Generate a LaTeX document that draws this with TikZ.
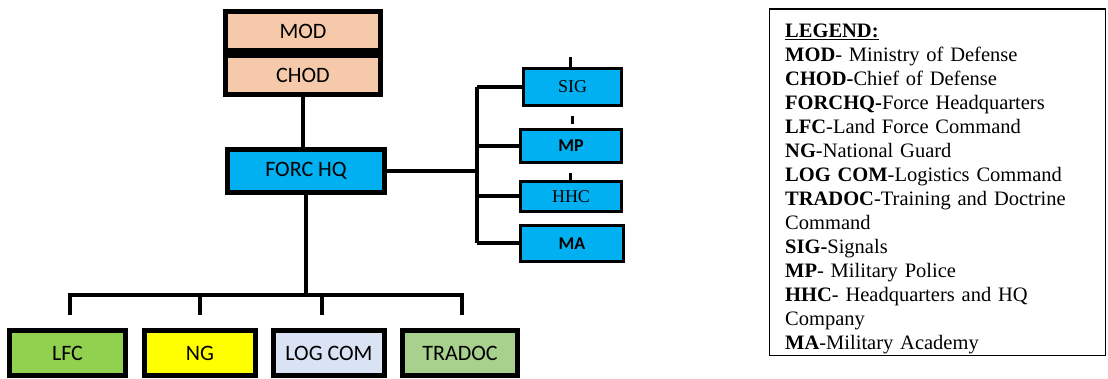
\documentclass[tikz,border=0pt]{standalone}
\usepackage{fontspec}
\setmainfont{Liberation Serif}
\newfontfamily\calib{Carlito}
\usetikzlibrary{calc}
\definecolor{peach}{HTML}{F6C9AA}
\definecolor{cyanbox}{HTML}{00B0F0}
\definecolor{lfcgreen}{HTML}{92D050}
\definecolor{ngyellow}{HTML}{FFFF00}
\definecolor{logblue}{HTML}{DAE3F3}
\definecolor{tragreen}{HTML}{A9D18E}
\tikzset{
  bigbox/.style={draw=black, line width=5pt, inner sep=0pt, font=\calib\fontsize{22}{24}\selectfont},
  smallbox/.style={draw=black, line width=3pt, inner sep=0pt, fill=cyanbox},
  conn/.style={draw=black, line width=4pt},
  tick/.style={draw=black, line width=3pt}
}
\begin{document}
\begin{tikzpicture}[x=1pt,y=-1pt]
\useasboundingbox (0,0) rectangle (1108,379);
% top boxes
\node[bigbox, fill=peach, minimum width=155pt, minimum height=38.5pt] (mod) at (303,31) {MOD};
\node[bigbox, fill=peach, minimum width=155pt, minimum height=39.5pt, anchor=north] (chod) at (mod.south) {CHOD};
\node[bigbox, fill=cyanbox, minimum width=157pt, minimum height=43pt] (forc) at (306,171) {FORC HQ};
% right boxes
\node[smallbox, minimum width=98pt, minimum height=37pt, font=\fontsize{18}{20}\selectfont] (sig) at (572.5,87) {SIG};
\node[smallbox, minimum width=101pt, minimum height=33pt, font=\calib\bfseries\fontsize{18}{20}\selectfont] (mp) at (571,146) {MP};
\node[smallbox, minimum width=101pt, minimum height=30pt, font=\fontsize{18}{20}\selectfont] (hhc) at (571,196.5) {HHC};
\node[smallbox, minimum width=103pt, minimum height=36pt, font=\calib\bfseries\fontsize{18}{20}\selectfont] (ma) at (572,243.5) {MA};
% bottom boxes
\node[bigbox, fill=lfcgreen, minimum width=116pt, minimum height=45pt] (lfc) at (67.5,353) {LFC};
\node[bigbox, fill=ngyellow, minimum width=111pt, minimum height=45pt] (ng) at (200,353) {NG};
\node[bigbox, fill=logblue, minimum width=111pt, minimum height=45pt] (log) at (329,353) {LOG COM};
\node[bigbox, fill=tragreen, minimum width=115pt, minimum height=45pt] (tra) at (460,353) {TRADOC};
% connectors top
\draw[conn] (chod.south) -- (chod.south |- forc.north);
\coordinate (rbus) at (477,0);
\draw[conn] (forc.east) -- (forc.east -| rbus);
\draw[conn] (sig.west -| rbus) -- (ma.west -| rbus);
\draw[conn] (sig.west -| rbus) -- (sig.west);
\draw[conn] (mp.west -| rbus) -- (mp.west);
\draw[conn] (hhc.west -| rbus) -- (hhc.west);
\draw[conn] (ma.west -| rbus) -- (ma.west);
% ticks
\coordinate (t1) at (570,57);
\coordinate (t2) at (572,116);
\coordinate (t3) at (570,173);
\draw[tick] (t1) -- (t1 |- sig.north);
\draw[tick] (t2) -- ($(t2 |- mp.north)+(0,-4)$);
\draw[tick] (t3) -- (t3 |- hhc.north);
% bottom bus
\coordinate (bus) at (0,295);
\coordinate (d1) at (70,315);
\coordinate (d2) at (200,315);
\coordinate (d3) at (322,315);
\coordinate (d4) at (462,315);
\draw[conn] (forc.south) -- (forc.south |- bus);
\draw[conn] (d1) -- (d1 |- bus) -- (d4 |- bus) -- (d4);
\draw[conn] (d2 |- bus) -- (d2);
\draw[conn] (d3 |- bus) -- (d3);
% legend
\node[draw=black, line width=1.5pt, minimum width=336pt, minimum height=346pt, anchor=north west, inner sep=0pt] (legend) at (768.5,8.5) {};
\node[anchor=base west, text width=315pt, align=left, inner sep=0pt, font=\fontsize{20.5}{24}\selectfont] (legtext) at (785,38) {%
\underline{\textbf{LEGEND:}}\\
\textbf{MOD}- Ministry of Defense\\
\textbf{CHOD-}Chief of Defense\\
\textbf{FORCHQ-}Force Headquarters\\
\textbf{LFC}-Land Force Command\\
\textbf{NG}-National Guard\\
\textbf{LOG COM}-Logistics Command\\
\textbf{TRADOC}-Training and Doctrine\\
Command\\
\textbf{SIG-}Signals\\
\textbf{MP}- Military Police\\
\textbf{HHC}- Headquarters and HQ\\
Company\\
\textbf{MA}-Military Academy};
\end{tikzpicture}
\end{document}
